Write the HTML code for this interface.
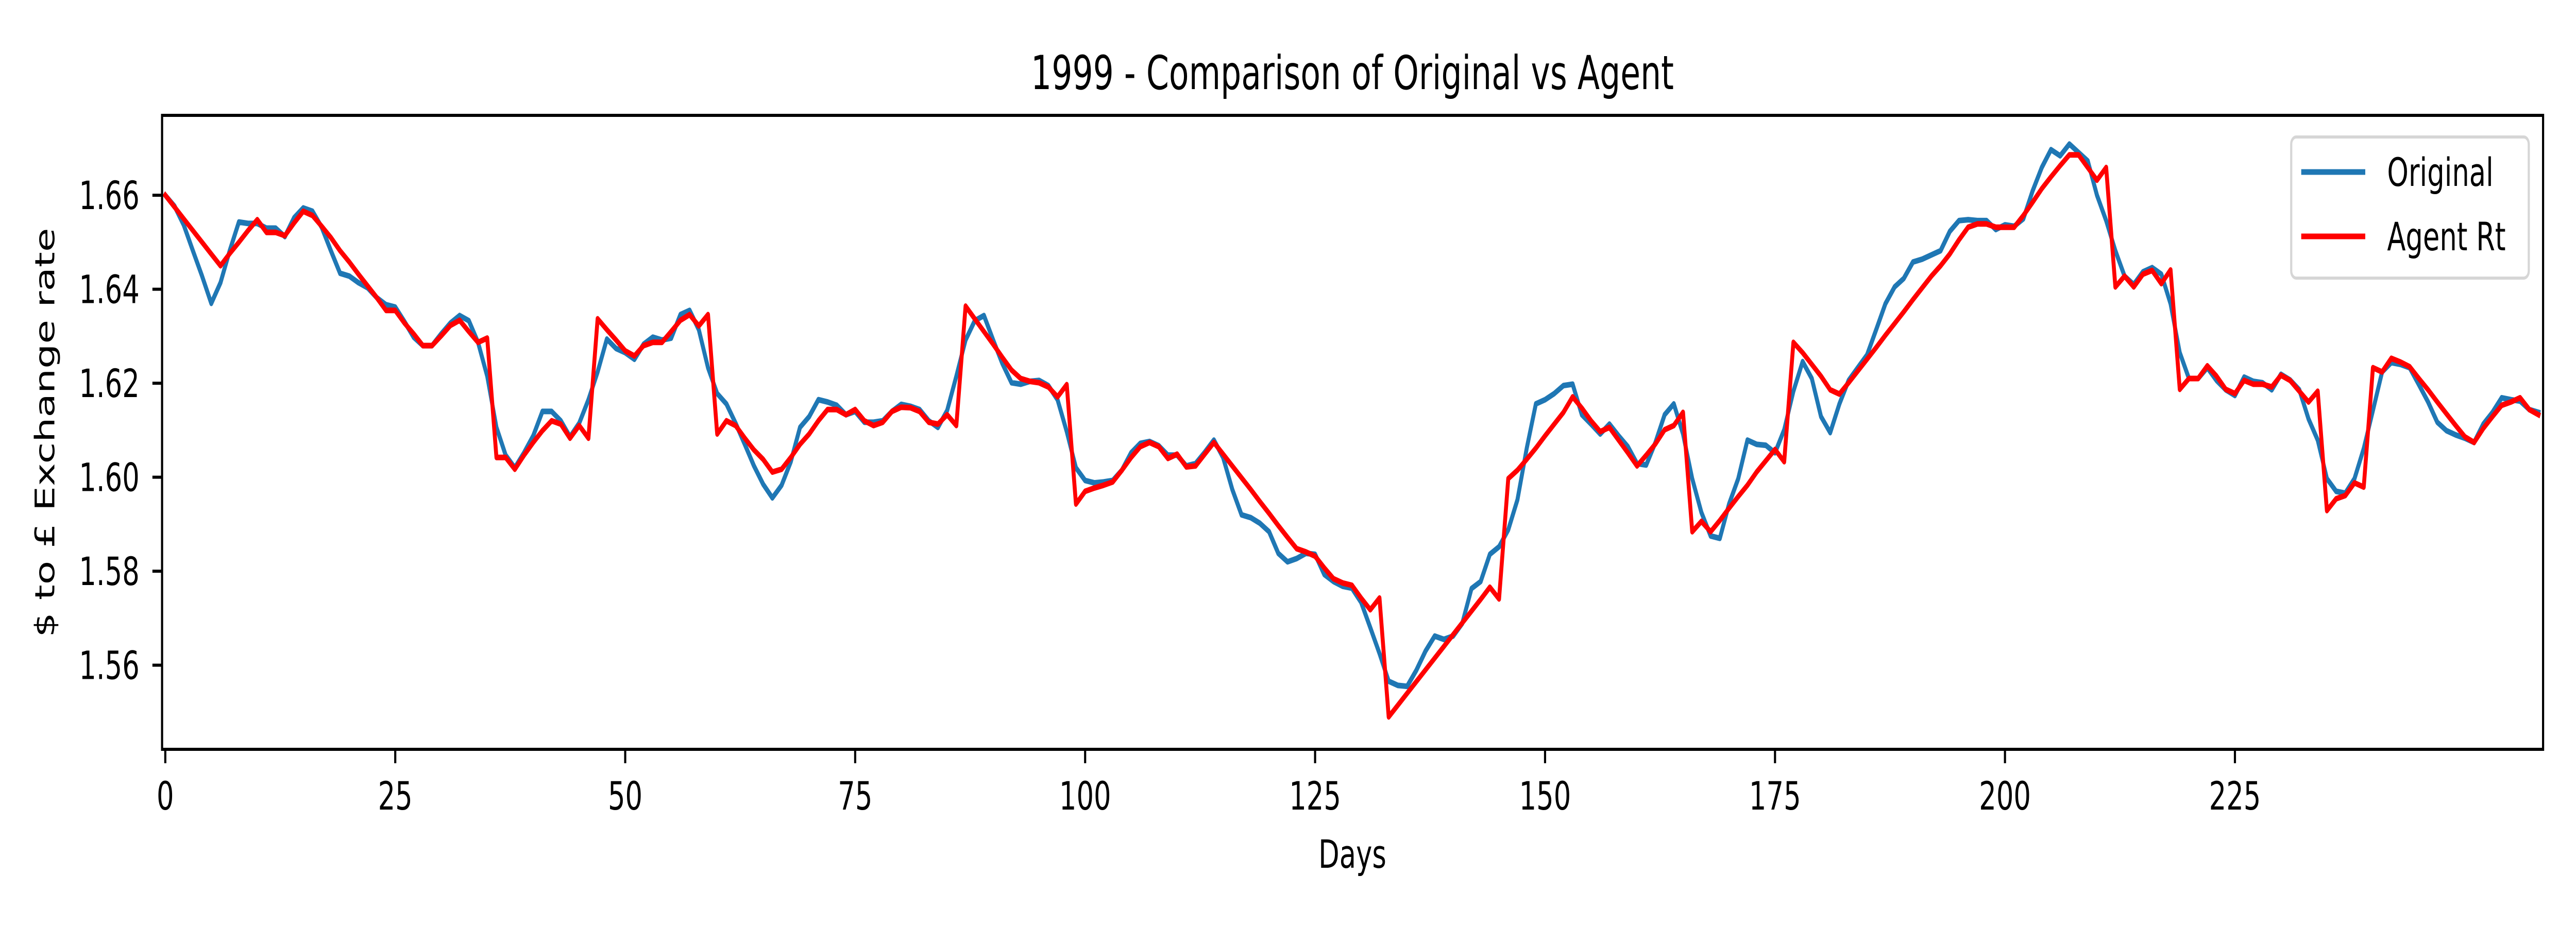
<!DOCTYPE html>
<html><head><meta charset="utf-8"><style>html,body{margin:0;padding:0;background:#fff;overflow:hidden;width:100%;height:100%}svg{display:block;width:100vw;height:100vh}text{font-family:"DejaVu Sans","Liberation Sans",sans-serif}</style></head>
<body>
<svg id="chart" viewBox="0 0 7200 1800" preserveAspectRatio="none" xmlns="http://www.w3.org/2000/svg">
<rect x="0" y="0" width="7200" height="1800" fill="#fff"/>
<text x="3780" y="173" font-size="91" text-anchor="middle">1999 - Comparison of Original vs Agent</text>
<g id="plot"></g>
<text x="3780" y="1685" font-size="76" text-anchor="middle">Days</text>
<text x="0" y="0" font-size="76" text-anchor="middle" transform="translate(152,840) rotate(-90)">$ to £ Exchange rate</text>
<g>
<rect x="6404" y="266" width="664" height="274" rx="14" fill="#fff" fill-opacity="0.8" stroke="#d6d6d6" stroke-width="6"/>
<line x1="6432" y1="334" x2="6611" y2="334" stroke="#1f77b4" stroke-width="11"/>
<text x="6672" y="361" font-size="76">Original</text>
<line x1="6432" y1="459" x2="6611" y2="459" stroke="#ff0000" stroke-width="11"/>
<text x="6672" y="486" font-size="76">Agent Rt</text>
</g>
</svg>
<script>
const xTicks = [0, 25, 50, 75, 100, 125, 150, 175, 200, 225];
const yTicks = [1.56, 1.58, 1.60, 1.62, 1.64, 1.66];
const yTickLabels = ["1.56", "1.58", "1.60", "1.62", "1.64", "1.66"];
const original = [
1.660,1.6577,1.6537,1.6482,1.6428,1.637,1.6414,1.6482,1.6543,1.654,
1.654,1.653,1.653,1.6512,1.6552,1.6573,1.6566,1.6532,1.6482,1.6434,
1.6428,1.6414,1.6403,1.6382,1.6367,1.6362,1.6331,1.6298,1.628,1.628,
1.6305,1.6328,1.6344,1.6333,1.6287,1.6215,1.6106,1.6047,1.602,1.6052,
1.6088,1.614,1.614,1.612,1.6086,1.6115,1.6165,1.6224,1.6294,1.6274,
1.6265,1.6251,1.6283,1.6298,1.6292,1.6296,1.6346,1.6355,1.6314,1.6233,
1.6178,1.6156,1.6115,1.607,1.6024,1.5985,1.5956,1.5983,1.6033,1.6106,
1.6129,1.6165,1.616,1.6153,1.6133,1.614,1.6117,1.6117,1.612,1.614,
1.6155,1.6151,1.6144,1.612,1.6106,1.6142,1.6215,1.6292,1.6333,1.6344,
1.6292,1.6242,1.6201,1.6198,1.6204,1.6206,1.6195,1.6165,1.6097,1.602,
1.5993,1.5988,1.599,1.5993,1.6015,1.6052,1.6072,1.6076,1.6067,1.6047,
1.6047,1.6024,1.6029,1.6053,1.6079,1.6042,1.5974,1.592,1.5914,1.5902,
1.5884,1.5838,1.582,1.5827,1.5838,1.5836,1.5793,1.5778,1.5768,1.5764,
1.5734,1.568,1.5625,1.5566,1.5557,1.5555,1.5589,1.563,1.5662,1.5655,
1.5662,1.5689,1.5763,1.5778,1.5836,1.5852,1.5888,1.5952,1.6061,1.6156,
1.6165,1.6178,1.6195,1.6198,1.6133,1.6113,1.6092,1.6113,1.6088,1.6065,
1.6029,1.6026,1.6074,1.6133,1.6156,1.6092,1.5997,1.5925,1.5875,1.587,
1.5943,1.5997,1.6079,1.607,1.6068,1.6052,1.6101,1.6183,1.6246,1.621,
1.6129,1.6095,1.6156,1.6206,1.6233,1.626,1.6314,1.6369,1.6405,1.6423,
1.6458,1.6464,1.6473,1.6482,1.6523,1.6546,1.6548,1.6546,1.6546,1.6527,
1.6537,1.6534,1.655,1.6609,1.6659,1.6697,1.6684,1.6709,1.6691,1.6673,
1.660,1.6546,1.6482,1.6428,1.641,1.6437,1.6446,1.6432,1.6369,1.6265,
1.621,1.621,1.6233,1.6206,1.6186,1.6174,1.6213,1.6204,1.6201,1.6186,
1.6219,1.6207,1.6186,1.6124,1.6079,1.5997,1.597,1.5966,1.5997,1.6061,
1.6142,1.6224,1.6244,1.624,1.6233,1.6197,1.616,1.6117,1.6099,1.609,
1.6083,1.6074,1.6113,1.6138,1.6169,1.6165,1.6162,1.6144,1.6138
];
const agent = [
1.660,1.6575,1.655,1.6525,1.650,1.6475,1.645,1.6476,1.650,1.6525,
1.6548,1.6521,1.6521,1.6514,1.6541,1.6566,1.6557,1.6534,1.651,1.6482,
1.6458,1.6432,1.6407,1.6382,1.6355,1.6355,1.6328,1.6305,1.628,1.628,
1.6301,1.6323,1.6334,1.631,1.6287,1.6296,1.6042,1.6042,1.6017,1.6047,
1.6074,1.6099,1.612,1.6113,1.6083,1.611,1.6083,1.6337,1.6314,1.6292,
1.6269,1.6258,1.628,1.6287,1.6287,1.631,1.6334,1.6346,1.6322,1.6346,
1.6092,1.612,1.611,1.6083,1.6058,1.6038,1.6011,1.6017,1.6042,1.607,
1.6092,1.612,1.6144,1.6144,1.6133,1.6144,1.612,1.611,1.6117,1.614,
1.6149,1.6148,1.614,1.6117,1.6113,1.6133,1.611,1.6364,1.6337,1.631,
1.6283,1.6255,1.6228,1.621,1.6204,1.6201,1.6192,1.6171,1.6197,1.5943,
1.597,1.5977,1.5983,1.599,1.6015,1.6042,1.6065,1.6074,1.6065,1.604,
1.6049,1.6022,1.6024,1.6049,1.6074,1.6049,1.6024,1.5999,1.5974,1.5948,
1.5923,1.5897,1.5872,1.5848,1.5841,1.5832,1.5807,1.5784,1.5775,1.577,
1.5743,1.5718,1.5743,1.549,1.5515,1.554,1.5565,1.559,1.5615,1.564,
1.5665,1.569,1.5715,1.574,1.5766,1.5741,1.5997,1.6015,1.6038,1.6062,
1.6088,1.6113,1.6138,1.6171,1.6147,1.612,1.6097,1.6106,1.6079,1.6052,
1.6024,1.6047,1.6071,1.6101,1.611,1.6138,1.5884,1.5906,1.5884,1.5908,
1.5934,1.5959,1.5983,1.6011,1.6035,1.6059,1.6033,1.6287,1.6265,1.624,
1.6215,1.6186,1.6177,1.6201,1.6226,1.6251,1.6276,1.6302,1.6327,1.6352,
1.6378,1.6403,1.6428,1.645,1.6475,1.6505,1.6532,1.6539,1.6539,1.6532,
1.6532,1.6532,1.6557,1.6585,1.6614,1.6639,1.6663,1.6686,1.6686,1.6659,
1.6632,1.6659,1.6405,1.6428,1.6405,1.6432,1.644,1.6412,1.6441,1.6187,
1.621,1.621,1.6237,1.6215,1.6187,1.6178,1.6206,1.6198,1.6198,1.6192,
1.6217,1.6206,1.6183,1.616,1.6183,1.5929,1.5954,1.5961,1.5988,1.5979,
1.6233,1.6224,1.6253,1.6245,1.6235,1.621,1.6186,1.616,1.6135,1.611,
1.6086,1.6074,1.6104,1.6129,1.6153,1.616,1.6169,1.6144,1.6133
];

const L = 453, R = 7108, T = 224, B = 1455;
const X0 = -0.35, X1 = 258.5, Y0 = 1.5421, Y1 = 1.677;
function xs(d) { return L + (d - X0) / (X1 - X0) * (R - L); }
function ys(v) { return B - (v - Y0) / (Y1 - Y0) * (B - T); }
const NS = "http://www.w3.org/2000/svg";
const plot = document.getElementById('plot');
function mk(tag, attrs) { const e = document.createElementNS(NS, tag); for (const k in attrs) e.setAttribute(k, attrs[k]); return e; }

const defs = mk('defs', {});
const cp = mk('clipPath', {id: 'clip'});
cp.appendChild(mk('rect', {x: L, y: T, width: R - L, height: B - T}));
defs.appendChild(cp);
plot.appendChild(defs);

function drawSeries(arr, color, name) {
  const pts = arr.map((v, i) => xs(i).toFixed(1) + ',' + ys(v).toFixed(1)).join(' ');
  const pl = mk('polyline', {points: pts, fill: 'none', stroke: color, 'stroke-width': 11, 'stroke-linejoin': 'round', 'stroke-linecap': 'square', 'clip-path': 'url(#clip)'});
  
  
  plot.appendChild(pl);
}
drawSeries(original, '#1f77b4', 'original-line');
drawSeries(agent, '#ff0000', 'agent-rt-line');

const frame = mk('rect', {x: L, y: T, width: R - L, height: B - T, fill: 'none', stroke: '#000', 'stroke-width': 6});


plot.appendChild(frame);

xTicks.forEach(t => {
  const x = xs(t);
  const ln = mk('line', {x1: x, y1: B, x2: x, y2: B + 27, stroke: '#000', 'stroke-width': 6});
  
  
  plot.appendChild(ln);
  const tx = mk('text', {x: x, y: 1572, 'font-size': 76, 'text-anchor': 'middle'});
  tx.textContent = String(t);
  
  
  plot.appendChild(tx);
});
yTicks.forEach((t, i) => {
  const y = ys(t);
  const ln = mk('line', {x1: L - 27, y1: y, x2: L, y2: y, stroke: '#000', 'stroke-width': 6});
  
  
  plot.appendChild(ln);
  const tx = mk('text', {x: 390, y: y + 27, 'font-size': 76, 'text-anchor': 'end'});
  tx.textContent = yTickLabels[i];
  
  
  plot.appendChild(tx);
});
</script>
</body></html>
